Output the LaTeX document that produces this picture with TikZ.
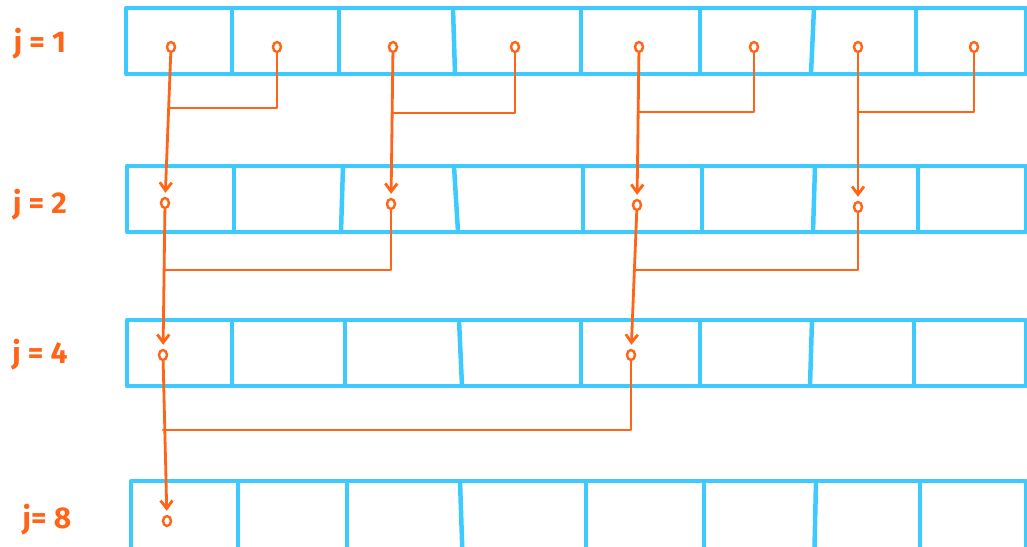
\documentclass[tikz,border=0pt]{standalone}
\usepackage{fontspec}
\setmainfont{Fira Sans}
\usetikzlibrary{arrows.meta,shapes.geometric}
\definecolor{cellblue}{HTML}{3DCBFF}
\definecolor{linkorange}{HTML}{FF6417}
\begin{document}
\begin{tikzpicture}[x=1pt,y=-1pt,
  arr/.style={draw=cellblue,line width=4.5pt,line join=round},
  div/.style={draw=cellblue,line width=4.5pt},
  elem/.style={ellipse,draw=linkorange,line width=2.4pt,inner sep=0pt,minimum width=8pt,minimum height=10pt},
  link/.style={draw=linkorange,line width=2.8pt,line cap=round,line join=round},
  flow/.style={link,-{Straight Barb[length=8pt,width=12pt]},shorten >=4pt},
  lab/.style={text=linkorange,font=\fontsize{30}{32}\selectfont\bfseries}]
\useasboundingbox (0,0) rectangle (1027,546);
\clip (0,0) rectangle (1027,546);
% arrays
\draw[arr] (126,8) rectangle (1026,74);
\foreach \a/\b in {232/232,339/339,453/455,581/581,700/700,814/811,916/916}
  \draw[div] (\a,8) -- (\b,74);
\draw[arr] (127,166) rectangle (1026,232);
\foreach \a/\b in {234/234,343/341,454/458,583/583,702/702,815/813,918/918}
  \draw[div] (\a,166) -- (\b,232);
\draw[arr] (127,320) rectangle (1026,386);
\foreach \a/\b in {232/232,345/345,459/462,581/581,700/700,812/810,914/914}
  \draw[div] (\a,320) -- (\b,386);
\draw[arr] (131,481) rectangle (1026,570);
\foreach \a/\b in {238/238,347/347,460/463,586/586,704/704,816/814,920/920}
  \draw[div] (\a,481) -- (\b,570);
% labels
\node[lab] (l1) at (40,44) {j = 1};
\node[lab] (l2) at (40,205) {j = 2};
\node[lab] (l4) at (40,355) {j = 4};
\node[lab] (l8) at (47,520) {j= 8};
% elements
\node[elem] (a1) at (171,47) {};
\node[elem] (a2) at (277,47) {};
\node[elem] (a3) at (393,47) {};
\node[elem] (a4) at (515,47) {};
\node[elem] (a5) at (639,47) {};
\node[elem] (a6) at (754,47) {};
\node[elem] (a7) at (858,47) {};
\node[elem] (a8) at (974,47) {};
\node[elem] (b1) at (165,203) {};
\node[elem] (b2) at (391,204) {};
\node[elem] (b3) at (637,205) {};
\node[elem] (b4) at (858,207) {};
\node[elem] (c1) at (163,355) {};
\node[elem] (c2) at (631,355) {};
\node[elem] (d1) at (167,521) {};
% join points
\coordinate (m1) at (169,108);
\coordinate (m2) at (392,113);
\coordinate (m3) at (638,112);
\coordinate (m4) at (858,112);
\coordinate (m5) at (164,270);
\coordinate (m6) at (635,270);
\coordinate (m7) at (163,430);
% connectors
\draw[flow] (a1) -- (b1);
\draw[flow] (a3) -- (b2);
\draw[flow] (a5) -- (b3);
\draw[flow] (a7) -- (b4);
\draw[link] (a2) |- (m1);
\draw[link] (a4) |- (m2);
\draw[link] (a6) |- (m3);
\draw[link] (a8) |- (m4);
\draw[flow] (b1) -- (c1);
\draw[flow] (b3) -- (c2);
\draw[link] (b2) |- (m5);
\draw[link] (b4) |- (m6);
\draw[flow] (c1) -- (d1);
\draw[link] (c2) |- (m7);
\end{tikzpicture}
\end{document}
